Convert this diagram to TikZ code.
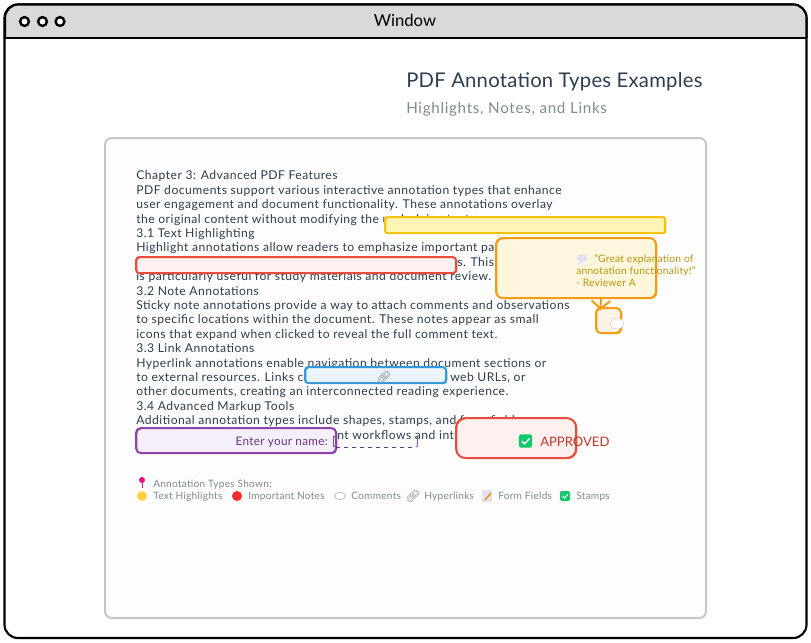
\documentclass[tikz,border=0pt]{standalone}
\usepackage{fontspec}
\setmainfont{Lato}
\newfontfamily\emojifont{Noto Emoji}
\usetikzlibrary{arrows.meta,shapes.geometric}
\newdimen\pix \pix=.75pt
\definecolor{ink}{HTML}{2C3E50}
\definecolor{mute}{HTML}{7F8C8D}
\definecolor{hlline}{HTML}{F1C40F}
\definecolor{hlfill}{HTML}{FEF5B5}
\definecolor{redline}{HTML}{E74C3C}
\definecolor{redfill}{HTML}{FDF0EE}
\definecolor{orline}{HTML}{F39C12}
\definecolor{orfill}{HTML}{FFF6DE}
\definecolor{smfill}{HTML}{FDF2E3}
\definecolor{blline}{HTML}{3498DB}
\definecolor{blfill}{HTML}{EAF2FA}
\definecolor{puline}{HTML}{8E44AD}
\definecolor{pufill}{HTML}{F5EFFC}
\definecolor{gold}{HTML}{B8960B}
\definecolor{purp}{HTML}{6C3483}
\definecolor{stampred}{HTML}{C0392B}
\definecolor{okgreen}{HTML}{10C96B}
\definecolor{pinpink}{HTML}{E9108C}
\definecolor{dotyellow}{HTML}{FFD23F}
\definecolor{dotred}{HTML}{F22B2B}
\definecolor{lilac}{HTML}{E4DFF2}
\definecolor{cardfill}{HTML}{FDFDFD}
\tikzset{
  x=.75pt,y=-.75pt,
  body/.style={anchor=base west,inner sep=0pt,text=ink,font=\fontsize{9.1pt}{11pt}\selectfont\addfontfeature{LetterSpace=4}},
  legend/.style={anchor=base west,inner sep=0pt,text=mute,font=\fontsize{7.6pt}{9pt}\selectfont\addfontfeature{LetterSpace=2.4}},
  comment/.style={anchor=base west,inner sep=0pt,text=gold,font=\fontsize{7.7pt}{9pt}\selectfont\addfontfeature{LetterSpace=2}},
  sketch/.style={draw=#1,line width=1.4pt,rounded corners=3.5pt,inner sep=0pt,
    postaction={draw=#1,line width=.9pt,transform canvas={xshift=.5pt,yshift=-.4pt}}},
  dot/.style={circle,inner sep=0pt,minimum size=7.5pt},
  stampicon/.style={fill=okgreen,rounded corners=1.2pt,inner sep=0pt},
  linkicon/.style={inner sep=0pt,text=black!45,font=\emojifont\fontsize{9pt}{10pt}\selectfont},
  wdot/.style={circle,draw,fill=white,line width=1.8pt,minimum size=6.6pt,inner sep=0pt},
}
\begin{document}
\begin{tikzpicture}
\useasboundingbox (0,0) rectangle (811,643);
% window
\fill[white] (0,0) rectangle (811,643);
\draw[fill=white,line width=1.6pt,rounded corners=10pt] (4.5,4.5) rectangle (806.5,638);
\fill[fill=black!15,rounded corners=10pt] (5,5) -- (806,5) -- (806,38) -- (5,38) -- cycle;
\fill[black!15] (5,20) rectangle (806,38);
\draw[line width=1.6pt,rounded corners=10pt] (5,38) -- (5,4.5) -- (806.5,4.5) -- (806.5,38);
\draw[line width=1.5pt] (5,38) -- (806,38);
\node[wdot] (w1) at (24.5,21.5) {};
\node[wdot] (w2) at (42.5,21.5) {};
\node[wdot] (w3) at (60,21.5) {};
\node[inner sep=0pt,text=black,font=\fontsize{12.5pt}{14pt}\selectfont] (wt) at (405,20.5) {Window};
% titles
\node[anchor=base west,inner sep=0pt,text=ink,font=\fontsize{15.2pt}{18pt}\selectfont\addfontfeature{LetterSpace=1.2}] (title) at (406,87) {PDF Annotation Types Examples};
\node[anchor=base west,inner sep=0pt,text=mute,font=\fontsize{11.4pt}{14pt}\selectfont\addfontfeature{LetterSpace=4.5}] (sub) at (406,113) {Highlights, Notes, and Links};
% card
\node[draw=black!22,fill=cardfill,line width=1.5pt,rounded corners=5pt,minimum width=601\pix,minimum height=480\pix,inner sep=0pt] (card) at (405.5,378) {};
% text
\node[body] (l1) at (136,179) {Chapter 3: Advanced PDF Features};
\node[body] (l2) at (136,194) {PDF documents support various interactive annotation types that enhance};
\node[body] (l3) at (136,208) {user engagement and document functionality. These annotations overlay};
\node[body] (l4) at (136,223) {the original content without modifying the underlying text.};
\node[body] (l5) at (136,237) {3.1 Text Highlighting};
\node[body] (l6) at (136,251) {Highlight annotations allow readers to emphasize important passages};
\node[body] (l7) at (457,266) {s. This};
\node[body] (l8) at (136,280) {is particularly useful for study materials and document review.};
\node[body] (l9) at (136,295) {3.2 Note Annotations};
\node[body] (l10) at (136,309) {Sticky note annotations provide a way to attach comments and observations};
\node[body] (l11) at (136,323) {to specific locations within the document. These notes appear as small};
\node[body] (l12) at (136,338) {icons that expand when clicked to reveal the full comment text.};
\node[body] (l13) at (136,352) {3.3 Link Annotations};
\node[body] (l14) at (136,367) {Hyperlink annotations enable navigation between document sections or};
\node[body] (l15) at (136,381) {to external resources. Links can};
\node[body] (l15b) at (450,381) {web URLs, or};
\node[body] (l16) at (136,395) {other documents, creating an interconnected reading experience.};
\node[body] (l17) at (136,410) {3.4 Advanced Markup Tools};
\node[body] (l18) at (136,424) {Additional annotation types include shapes, stamps, and form fields};
\node[body] (l19) at (337,439) {nt workflows and interactive};
% boxes
\node[sketch=hlline,fill=hlfill,rounded corners=1.5pt,minimum width=280\pix,minimum height=16\pix] (hl) at (525,225) {};
\node[sketch=redline,fill=redfill,rounded corners=2.5pt,minimum width=320\pix,minimum height=16\pix] (imp) at (296,265) {};
\node[sketch=orline,fill=orfill,rounded corners=5pt,minimum width=160\pix,minimum height=60\pix] (note) at (576,268) {};
\node[sketch=orline,fill=smfill,minimum width=25\pix,minimum height=25\pix] (small) at (608.5,320.5) {};
\coordinate (as) at (601,297);
\coordinate (ae) at (600.5,310);
\draw[orline,line width=1.5pt,-{Straight Barb[length=6pt,width=14pt]}] (as) -- (ae);
\node[sketch=blline,fill=blfill,rounded corners=2.5pt,minimum width=141\pix,minimum height=16\pix] (link) at (375.5,375) {};
\node[sketch=puline,fill=pufill,minimum width=200\pix,minimum height=25\pix] (form) at (236,440.5) {};
\node[sketch=redline,fill=redfill,rounded corners=7pt,minimum width=120\pix,minimum height=40\pix] (stamp) at (516,438) {};
% contents
\node[ellipse,fill=lilac,inner sep=0pt,minimum width=8pt,minimum height=6pt] (bub) at (582,258) {};
\fill[lilac] (bub.south) ++(-2,-1) -- ++(-3,4) -- ++(6,-3) -- cycle;
\node[comment] (c1) at (594,262) {"Great explanation of};
\node[comment] (c2) at (576,274) {annotation functionality!"};
\node[comment] (c3) at (576,286) {- Reviewer A};
\node[ellipse,fill=white,draw=black!20,line width=.3pt,minimum width=10pt,minimum height=8pt,inner sep=0pt] (sb) at (617,323.5) {};
\node[linkicon] (li) at (384,377) {🔗};
\node[anchor=base east,inner sep=0pt,text=purp,font=\fontsize{8.8pt}{10pt}\selectfont\addfontfeature{LetterSpace=2.5}] (f1) at (336,445) {Enter your name: [};
\draw[purp,line width=.6pt,dashed] (336,447) -- (416,447);
\node[anchor=base west,inner sep=0pt,text=purp,font=\fontsize{8.8pt}{10pt}\selectfont] (f2) at (415,445) {]};
\node[stampicon,minimum size=10pt] (chk) at (525.5,441) {};
\draw[white,line width=1pt] (chk.center) ++(-3.5,0) -- ++(2.5,3) -- ++(5,-5.5);
\node[anchor=base west,inner sep=0pt,text=stampred,font=\fontsize{9.8pt}{12pt}\selectfont] (appr) at (540,446) {APPROVED};
% legend
\node[circle,fill=pinpink,minimum size=4.5pt,inner sep=0pt] (pin) at (142,480) {};
\draw[pinpink,line width=.6pt] (pin.south) -- ++(0,5);
\node[legend] (lg0) at (153,487.5) {Annotation Types Shown:};
\node[dot,fill=dotyellow] (d1) at (142,496) {};
\node[legend] (lg1) at (153,499.5) {Text Highlights};
\node[dot,fill=dotred] (d2) at (237,496) {};
\node[legend] (lg2) at (248,499.5) {Important Notes};
\node[ellipse,draw=black!30,fill=white,line width=.5pt,minimum width=8pt,minimum height=5.5pt,inner sep=0pt] (d3) at (340,496) {};
\node[legend] (lg3) at (351,499.5) {Comments};
\node[linkicon] (d4) at (413,496) {🔗};
\node[legend] (lg4) at (424,499.5) {Hyperlinks};
\node[fill=lilac,minimum width=7pt,minimum height=8.5pt,inner sep=0pt] (d5) at (487,496) {};
\draw[orline!90!red,line width=1.1pt] (485,500) -- (491,493);
\node[legend] (lg5) at (498,499.5) {Form Fields};
\node[stampicon,minimum size=7.5pt] (d6) at (565,496) {};
\draw[white,line width=.8pt] (d6.center) ++(-2.5,0) -- ++(2,2.2) -- ++(3.5,-4);
\node[legend] (lg6) at (576,499.5) {Stamps};
\end{tikzpicture}
\end{document}
